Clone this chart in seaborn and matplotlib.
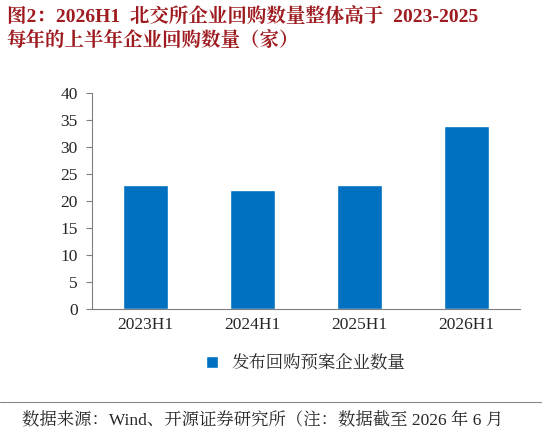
import matplotlib
matplotlib.use("Agg")
import matplotlib.pyplot as plt
import seaborn as sns
import pandas as pd

categories = ["2023H1", "2024H1", "2025H1", "2026H1"]
counts = [23, 22, 23, 34]
series_name = "发布回购预案企业数量"
title_text = "图2：2026H1  北交所企业回购数量整体高于  2023-2025\n每年的上半年企业回购数量（家）"
source_text = "数据来源：Wind、开源证券研究所（注：数据截至 2026 年 6 月"

sns.set_style("white")
plt.rcParams['font.family'] = ['Liberation Serif', 'Noto Serif CJK SC', 'Noto Sans CJK SC']

df = pd.DataFrame({"period": categories, "count": counts})

fig = plt.figure(figsize=(5.46, 4.36), dpi=100)
ax = fig.add_axes([0.168, 0.291, 0.784, 0.495])
sns.barplot(data=df, x="period", y="count", color="#0070C0", width=0.42,
            saturation=1, ax=ax, label=series_name)
ax.set_ylim(0, 40)
ax.set_yticks(range(0, 41, 5))
ax.set_xlabel("")
ax.set_ylabel("")
ax.tick_params(axis="both", labelsize=12.5, length=0, pad=6)
for s in ["top", "right"]:
    ax.spines[s].set_visible(False)
ax.spines["left"].set_color("#7f7f7f")
ax.spines["bottom"].set_color("#7f7f7f")
ax.tick_params(axis="y", length=4, direction="out", color="#7f7f7f", left=True)

ax.legend(loc="upper center", bbox_to_anchor=(0.5, -0.14), frameon=False,
          fontsize=12.5, handlelength=0.7, handleheight=0.7)

fig.text(0.012, 0.985, title_text, ha="left", va="top", fontsize=14,
         fontweight="bold", color="#9E1B20", linespacing=1.35)
fig.add_artist(plt.Line2D([0.0, 0.99], [0.078, 0.078], color="#888888", lw=0.8))
fig.text(0.04, 0.035, source_text, ha="left", va="center", fontsize=12.5)

fig.savefig("out.png", dpi=100)
